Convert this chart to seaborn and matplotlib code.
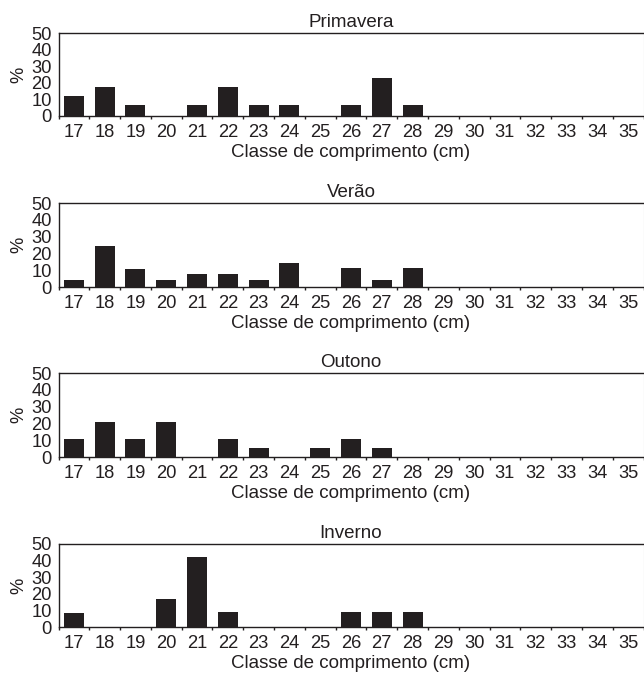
import numpy as np
import pandas as pd
import seaborn as sns
import matplotlib.pyplot as plt

# length classes (cm) and % frequency per season
classes = [str(c) for c in range(17, 36)]
seasons = ['Primavera', 'Verão', 'Outono', 'Inverno']

primavera = [12.0, 17.3, 6.6, 0, 6.6, 17.3, 6.6, 6.6, 0, 6.6, 22.7, 6.6,
             0, 0, 0, 0, 0, 0, 0]
verao = [4.0, 24.5, 10.8, 4.0, 7.8, 7.8, 4.0, 14.3, 0, 11.4, 4.0, 11.4,
         0, 0, 0, 0, 0, 0, 0]
outono = [10.8, 21.0, 10.8, 21.0, 0, 10.8, 5.4, 0, 5.4, 10.8, 5.4, 0,
          0, 0, 0, 0, 0, 0, 0]
inverno = [8.6, 0, 0, 17.1, 42.0, 9.2, 0, 0, 0, 9.2, 9.2, 9.2,
           0, 0, 0, 0, 0, 0, 0]

values = [primavera, verao, outono, inverno]

sns.set_style('ticks')
plt.rcParams['font.family'] = ['Liberation Sans', 'DejaVu Sans']
plt.rcParams['text.color'] = '#231f20'
plt.rcParams['axes.labelcolor'] = '#231f20'
plt.rcParams['xtick.color'] = '#231f20'
plt.rcParams['ytick.color'] = '#231f20'

fig = plt.figure(figsize=(6.44, 6.77), dpi=100)
H = 677.0
W = 644.0
# pixel top / bottom of each panel
panel_px = [(33, 116), (203, 287), (373, 457), (544, 627)]
left_px, right_px = 58.5, 643.5
fs = 13.2

for (top, bot), name, vals in zip(panel_px, seasons, values):
    ax = fig.add_axes([left_px / W, 1 - bot / H,
                       (right_px - left_px) / W, (bot - top) / H])
    df = pd.DataFrame({'classe': classes, 'pct': vals})
    sns.barplot(data=df, x='classe', y='pct', order=classes, color='#231f20',
                width=0.65, saturation=1, edgecolor='none', ax=ax)
    ax.set_xlim(-0.5, len(classes) - 0.5)
    ax.set_ylim(0, 50)
    ax.set_yticks(np.arange(0, 51, 10))
    ax.set_xticks(np.arange(-0.5, len(classes)), minor=True)
    ax.tick_params(axis='x', which='major', length=0, pad=5.5, labelsize=fs)
    ax.tick_params(axis='x', which='minor', length=2.5, width=1, direction='out')
    ax.tick_params(axis='y', length=0, pad=5, labelsize=fs)
    ax.set_ylabel('%', fontsize=fs, labelpad=3)
    ax.set_xlabel('Classe de comprimento (cm)', fontsize=fs + 0.3, labelpad=2.5)
    ax.set_title(name, fontsize=fs + 0.3, pad=4)
    for side in ['left', 'top', 'bottom']:
        ax.spines[side].set_color('#231f20')
        ax.spines[side].set_linewidth(1)
    ax.spines['right'].set_color('#c8c8c8')
    ax.spines['right'].set_linewidth(0.8)

fig.savefig('out.png', dpi=100)
